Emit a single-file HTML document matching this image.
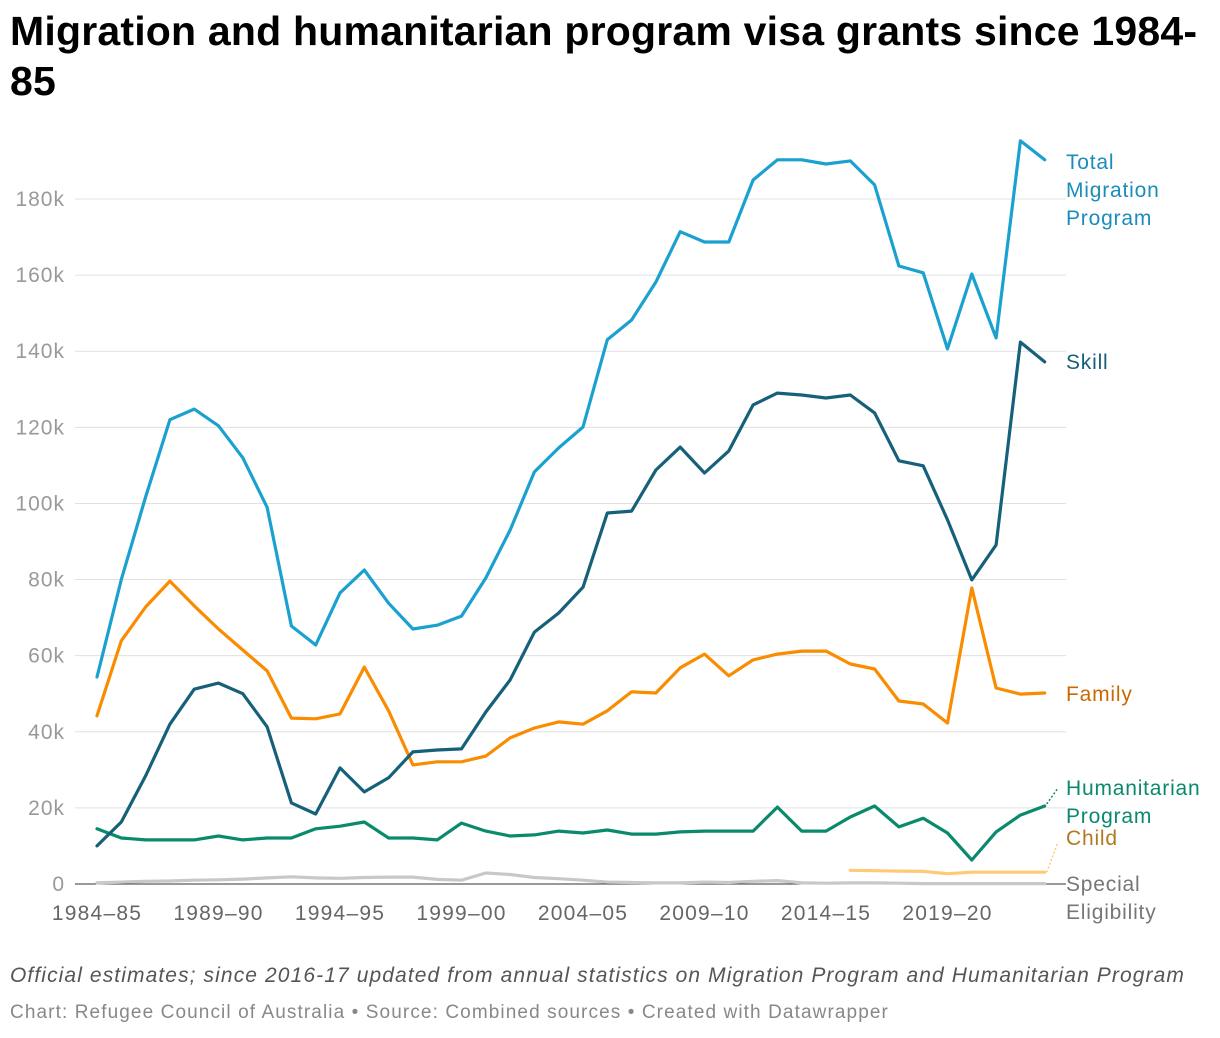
<!DOCTYPE html>
<html><head><meta charset="utf-8"><style>
body{margin:0;background:#fff;font-family:"Liberation Sans",sans-serif;}
#wrap{position:relative;width:1220px;height:1038px;overflow:hidden}
h1{position:absolute;left:10px;top:6px;margin:0;font-size:41px;line-height:50px;font-weight:bold;color:#000;width:1215px;letter-spacing:0.2px;white-space:nowrap}
.note{position:absolute;left:10px;top:964px;font-size:21px;letter-spacing:1.1px;font-style:italic;color:#555;white-space:nowrap}
.src{position:absolute;left:10px;top:1002px;font-size:19px;letter-spacing:1.1px;color:#888;white-space:nowrap}
</style></head><body>
<div id="wrap">
<h1>Migration and humanitarian program visa grants since 1984-<br>85</h1>
<svg id="chart" width="1220" height="1038" style="position:absolute;left:0;top:0"></svg>
<div class="note">Official estimates; since 2016-17 updated from annual statistics on Migration Program and Humanitarian Program</div>
<div class="src">Chart: Refugee Council of Australia • Source: Combined sources • Created with Datawrapper</div>
</div>
<script>
const yTicks=[0,20,40,60,80,100,120,140,160,180];
const yTickLabels=["0","20k","40k","60k","80k","100k","120k","140k","160k","180k"];
const xTickIdx=[0,5,10,15,20,25,30,35];
const xTickLabels=["1984–85","1989–90","1994–95","1999–00","2004–05","2009–10","2014–15","2019–20"];
const total=[54.4,80,101.7,122,124.8,120.4,112,99,67.8,62.8,76.5,82.5,73.8,67,68,70.4,80.4,93,108.3,114.6,120.1,143,148.2,158.2,171.4,168.7,168.7,185,190.3,190.3,189.2,190,183.7,162.4,160.6,140.6,160.3,143.5,195.3,190.3];
const skill=[10,16.3,28.4,42,51.2,52.8,50,41.3,21.3,18.4,30.5,24.2,27.9,34.7,35.2,35.5,45.2,53.6,66.2,71.2,78,97.5,98,108.8,114.8,108,113.8,125.9,129,128.5,127.7,128.5,123.8,111.2,109.9,95.7,79.9,89.1,142.4,137.2];
const family=[44.2,63.9,72.8,79.6,73.1,67,61.5,56,43.6,43.4,44.7,57,45.5,31.3,32.1,32.1,33.6,38.4,41,42.6,42,45.5,50.5,50.2,56.8,60.4,54.7,58.9,60.4,61.2,61.2,57.8,56.5,48.1,47.3,42.3,77.8,51.5,49.9,50.2];
const humanitarian=[14.5,12.1,11.6,11.6,11.6,12.6,11.6,12.1,12.1,14.5,15.2,16.3,12.1,12.1,11.6,16,13.9,12.6,12.9,13.9,13.4,14.2,13.1,13.1,13.7,13.9,13.9,13.9,20.2,13.9,13.9,17.6,20.5,15,17.3,13.4,6.3,13.7,18.1,20.5];
const childStart=31;
const child=[3.6,3.5,3.4,3.3,2.7,3.1,3.1,3.1,3.1];
const special=[0.3,0.5,0.7,0.8,1,1.1,1.3,1.6,1.9,1.6,1.5,1.7,1.8,1.8,1.2,1,2.9,2.5,1.7,1.4,1,0.5,0.4,0.3,0.3,0.5,0.4,0.7,0.9,0.3,0.2,0.3,0.3,0.2,0.1,0.1,0.1,0.1,0.1,0.1];
const NS="http://www.w3.org/2000/svg";
const svg=document.getElementById('chart');
const x=i=>97+i*24.3;
const y=v=>884-v*(685/180);
function mk(t,a){const e=document.createElementNS(NS,t);for(const k in a)e.setAttribute(k,a[k]);svg.appendChild(e);return e;}
yTicks.forEach((v,i)=>{
 if(v>0){const g=mk('line',{x1:75,x2:1066,y1:y(v),y2:y(v),stroke:'#e0e0e0','stroke-width':1});
 
 }
 const t=mk('text',{x:65,y:y(v)+7,'text-anchor':'end','font-size':21,'letter-spacing':1,fill:'#999','font-family':'Liberation Sans,sans-serif'});
 t.textContent=yTickLabels[i];
 
 
});
const base=mk('line',{x1:75,x2:1066,y1:884,y2:884,stroke:'#333','stroke-width':1});


xTickIdx.forEach((d,i)=>{
 const t=mk('text',{x:x(d),y:920,'text-anchor':'middle','font-size':21,'letter-spacing':1.2,fill:'#666','font-family':'Liberation Sans,sans-serif'});
 t.textContent=xTickLabels[i];
 
 
});
function line(arr,start,color,name){
 const d=arr.map((v,i)=>(i?'L':'M')+x(i+start).toFixed(1)+','+y(v).toFixed(1)).join('');
 const p=mk('path',{d:d,fill:'none',stroke:color,'stroke-width':3.2,'stroke-linejoin':'round','stroke-linecap':'round'});
 
 
}
line(special,0,'#c8c8c8','special-eligibility-line');
line(child,childStart,'#ffca76','child-line');
line(humanitarian,0,'#0a8a6c','humanitarian-line');
line(family,0,'#f98c00','family-line');
line(skill,0,'#17607a','skill-line');
line(total,0,'#1ba1d0','total-line');
function lead(x1,y1,x2,y2,c){const l=mk('line',{x1,y1,x2,y2,stroke:c,'stroke-width':1.5,'stroke-dasharray':'2,2'});
 
 }
lead(x(39)+2,y(humanitarian[39])-2,1058,788,'#0a8a6c');
lead(x(39)+2,y(child[8]),1058,842,'#ffca76');
function lbl(lines,y0,c,name){
 const t=mk('text',{x:1066,y:y0,'font-size':21,'letter-spacing':0.8,fill:c,'font-family':'Liberation Sans,sans-serif'});
 lines.forEach((s,i)=>{const ts=document.createElementNS(NS,'tspan');ts.setAttribute('x',1066);ts.setAttribute('dy',i?28:0);ts.textContent=s;t.appendChild(ts);});
 
 
}
lbl(['Total','Migration','Program'],169,'#1a8dbb','total-label');
lbl(['Skill'],369,'#17607a','skill-label');
lbl(['Family'],701,'#c96a00','family-label');
lbl(['Humanitarian','Program'],795,'#0a8a6c','humanitarian-label');
lbl(['Child'],845,'#b07a20','child-label');
lbl(['Special','Eligibility'],891,'#777','special-eligibility-label');
</script>
</body></html>
